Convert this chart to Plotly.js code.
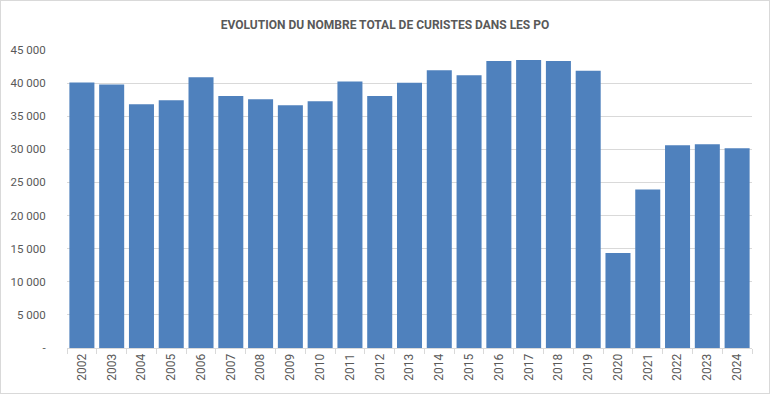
<!DOCTYPE html>
<html>
<head>
<meta charset="utf-8">
<script src="https://cdn.plot.ly/plotly-3.0.1.min.js"></script>
<style>
html, body { margin: 0; padding: 0; background: #fff; }
#chart { width: 768px; height: 392px; border: 1px solid #d9d9d9; }
</style>
</head>
<body>
<div id="chart"></div>
<script>
const years = ['2002','2003','2004','2005','2006','2007','2008','2009','2010','2011','2012','2013',
               '2014','2015','2016','2017','2018','2019','2020','2021','2022','2023','2024'];
const curistes = [40100, 39800, 36800, 37400, 40900, 38050, 37550, 36650, 37250, 40250, 38050, 40050,
                  41950, 41200, 43350, 43500, 43350, 41850, 14350, 23950, 30600, 30750, 30150];
const yTickVals = [0, 5000, 10000, 15000, 20000, 25000, 30000, 35000, 40000, 45000];
const yTickText = ['-', '5 000', '10 000', '15 000', '20 000', '25 000', '30 000', '35 000', '40 000', '45 000'];
const chartTitle = 'EVOLUTION DU NOMBRE TOTAL DE CURISTES DANS LES PO';

const fontFam = 'Roboto, "Liberation Sans", sans-serif';

Plotly.newPlot('chart', [{
  type: 'bar',
  x: years,
  y: curistes,
  marker: { color: '#4f81bd' },
  hoverinfo: 'x+y'
}], {
  width: 768,
  height: 392,
  margin: { l: 66, r: 17, t: 49, b: 45 },
  paper_bgcolor: '#ffffff',
  plot_bgcolor: '#ffffff',
  bargap: 0.16,
  showlegend: false,
  title: {
    text: '<b>' + chartTitle + '</b>',
    font: { family: fontFam, size: 12, color: '#595959' },
    x: 0.5, xanchor: 'center',
    y: 0.94, yanchor: 'middle'
  },
  xaxis: {
    type: 'category',
    tickangle: -90,
    tickfont: { family: fontFam, size: 12, color: '#595959' },
    showline: true, linecolor: '#d9d9d9', linewidth: 1,
    ticks: 'outside', tickson: 'boundaries', ticklen: 5, tickcolor: '#d9d9d9',
    showgrid: false
  },
  yaxis: {
    range: [0, 45000],
    tickvals: yTickVals,
    ticktext: yTickText,
    tickfont: { family: fontFam, size: 11.5, color: '#595959' },
    ticks: 'outside', ticklen: 18, tickcolor: 'rgba(0,0,0,0)',
    showgrid: true, gridcolor: '#d9d9d9', gridwidth: 1,
    zeroline: false, showline: false
  }
}, { displayModeBar: false, staticPlot: true });
</script>
</body>
</html>
